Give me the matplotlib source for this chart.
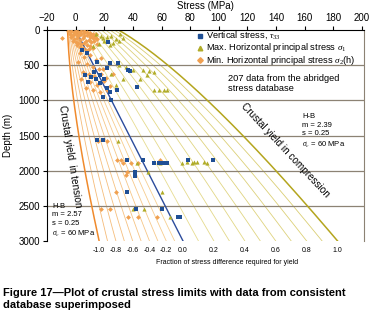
import matplotlib
matplotlib.use("Agg")
import matplotlib.pyplot as plt
import matplotlib.transforms as mtransforms
import numpy as np

plt.rcParams['font.family'] = ['Liberation Sans', 'DejaVu Sans']
plt.rcParams['mathtext.fontset'] = 'custom'
plt.rcParams['mathtext.rm'] = 'Liberation Serif'
plt.rcParams['mathtext.it'] = 'Liberation Serif:italic'

# ---------------- data ----------------
unit_weight = 0.025          # MPa per m
hb_comp = dict(m=2.39, s=0.25, sc=60.0)
hb_tens = dict(m=2.57, s=0.25, sc=60.0)
fractions = [round(v, 1) for v in np.arange(-1.0, 1.01, 0.1)]
fraction_labels = [-1.0, -0.8, -0.6, -0.4, -0.2, 0.0, 0.2, 0.4, 0.6, 0.8, 1.0]
stress_ticks = list(range(-20, 201, 20))
depth_ticks = list(range(0, 3001, 500))

# vertical stress (stress MPa, depth m)
sv_stress = [22.6, 4.4, 8, 15, 24, 29.6, 22, 36.6, 38, 6.5, 11, 17, 14, 8.6, 17, 22, 24, 19, 25, 43, 29, 13, 20,
             15, 19, 36, 47, 55, 58, 61, 64, 78.5, 96, 41.5, 41.5, 36, 42, 60, 71.5, 73]
sv_depth = [170, 285, 320, 450, 470, 470, 540, 570, 580, 640, 670, 640, 700, 740, 750, 825, 880, 950, 995, 810, 850, 600, 690,
            1565, 1565, 1850, 1850, 1890, 1890, 1890, 1890, 1850, 1850, 2020, 2075, 2300, 2545, 2545, 2660, 2660]

# max horizontal principal stress
smax_stress = [14, 18, 22, 25, 28, 30, 20, 16, 24, 12, 31, 19, 26, 33,
               40, 47, 51, 55, 50, 55, 58, 62, 64, 30, 35, 25, 33, 28, 45,
               29.6, 43, 50.5, 60, 40, 48, 66, 74, 81, 78, 83, 85, 90, 92, 59]
smax_depth = [60, 80, 100, 90, 130, 150, 150, 200, 210, 230, 60, 120, 180, 120,
              570, 570, 580, 600, 640, 850, 850, 850, 850, 500, 530, 620, 700, 780, 700,
              1580, 1890, 2020, 2300, 2545, 2545, 2660, 1890, 1890, 1880, 1880, 1880, 1880, 1890, 1890]

# min horizontal principal stress
smin_stress = [-9.5, -5, -3, -1, 0, 2, 4, 6, 8, 10, 12, 14, -4, -2, 0, 2, 4, 6, 8, 10, 12, 14,
               -3, -1, 1, 3, 5, 7, 9, 11, 13, 0, 2, 4, 6, 8, 10, 12, 3, 5, 7, 9, 1, 15, -2, 6, 3, 9, 11, 13, 15,
               3, 6, 10, 14, 18, 2, 8, 12, 16, 5, 9, 13, 18, 21, 4, 10, 15, 20, 24, 7, 12, 17, 22, 19, 26,
               15.6, 22, 29, 32, 39, 43.5, 59, 36, 28, 18, 24, 36.5, 43.5, 57, 33, 35]
smin_depth = [115, 10, 20, 30, 15, 25, 10, 20, 30, 40, 50, 60, 50, 70, 60, 80, 60, 90, 70, 100, 120, 110,
              100, 130, 110, 140, 120, 150, 140, 170, 160, 170, 190, 200, 180, 210, 230, 250, 240, 260, 280, 270, 220, 200, 160, 40, 50, 55, 80, 90, 130,
              330, 380, 350, 420, 400, 460, 480, 520, 560, 600, 620, 650, 620, 680, 700, 740, 780, 720, 790, 820, 850, 880, 860, 560, 620,
              1580, 1580, 1850, 1850, 1890, 1890, 1850, 2020, 2300, 2545, 2545, 2660, 2660, 2660, 1890, 2060]


# ---------------- helpers ----------------
def sigma_v(z):
    return unit_weight * z


def comp_limit(s3, p):
    return s3 + p['sc'] * np.sqrt(np.maximum(p['m'] * s3 / p['sc'] + p['s'], 0))


def tens_limit(s1, p):
    # solve s1 = s3 + sc*sqrt(m*s3/sc + s) for s3 (bisection)
    lo = np.full_like(s1, -60.0)
    hi = s1.copy()
    for _ in range(80):
        mid = 0.5 * (lo + hi)
        val = comp_limit(mid, p) - s1
        lo = np.where(val < 0, mid, lo)
        hi = np.where(val >= 0, mid, hi)
    return 0.5 * (lo + hi)


def fan_line(f, z):
    sv = sigma_v(z)
    if f >= 0:
        return sv + f * (comp_limit(sv, hb_comp) - sv)
    return sv + f * (sv - tens_limit(sv, hb_tens))


# ---------------- figure ----------------
W, H = 375, 320
fig = plt.figure(figsize=(W / 100, H / 100), dpi=100)
ax = fig.add_axes([47 / W, 1 - 241 / H, (364 - 47) / W, 211 / H])
ax.set_xlim(-20, 201.4)
ax.set_ylim(3000, 0)

z = np.linspace(0, 3000, 400)

orange_dark = '#f08a2c'
orange_light = np.array([0.96, 0.72, 0.46])
orange_pale = np.array([0.97, 0.82, 0.58])
olive_dark = '#b4a51e'
yel_pale = np.array([0.91, 0.87, 0.58])
yel_mid = np.array([0.85, 0.80, 0.44])

for f in fractions:
    x = fan_line(f, z)
    if f == -1.0:
        ax.plot(x, z, color=orange_dark, lw=1.1, zorder=2)
    elif f < 0:
        t = (f + 1.0) / 1.0
        c = orange_light * (1 - t) + orange_pale * t
        ax.plot(x, z, color=c, lw=0.6, zorder=1)
    elif f == 0:
        ax.plot(x, z, color='#2c4c9c', lw=1.0, zorder=3)
    elif f < 1.0:
        c = yel_pale * (1 - f) + yel_mid * f
        ax.plot(x, z, color=c, lw=0.6, zorder=1)
    else:
        ax.plot(x, z, color=olive_dark, lw=1.1, zorder=2)

for d in depth_ticks[1:-1]:
    ax.axhline(d, color='#8c8274', lw=0.9, zorder=1.5)

ax.scatter(smin_stress, smin_depth, marker='D', s=6, color='#f0a050', linewidths=0, zorder=4)
ax.scatter(smax_stress, smax_depth, marker='^', s=9, color='#b0ac28', linewidths=0, zorder=5)
ax.scatter(sv_stress, sv_depth, marker='s', s=9, color='#1f4f95', linewidths=0, zorder=6)

# axes styling
ax.xaxis.tick_top()
ax.xaxis.set_label_position('top')
ax.set_xticks(stress_ticks)
ax.set_yticks(depth_ticks)
ax.tick_params(axis='both', labelsize=7, length=3, width=0.8, direction='out', pad=2)
ax.set_xlabel('Stress (MPa)', fontsize=7, labelpad=3)
ax.set_ylabel('Depth (m)', fontsize=7, labelpad=4)
ax.spines['bottom'].set_visible(False)
ax.spines['right'].set_color('#8c8274')
ax.spines['right'].set_linewidth(0.8)

# bottom fraction labels
btrans = mtransforms.blended_transform_factory(ax.transData, ax.transAxes)
for f in fraction_labels:
    xf = fan_line(f, np.array([3000.0]))[0]
    ax.text(xf, -10 / 211, f'{f:.1f}', transform=btrans, ha='center', va='center', fontsize=5)
fig.text(227 / W, 1 - 263 / H, 'Fraction of stress difference required for yield',
         ha='center', va='center', fontsize=5)

# legend (manual)
leg_items = [('s', '#1f4f95', 'Vertical stress, $\\tau_{33}$'),
             ('^', '#b0ac28', 'Max. Horizontal principal stress $\\sigma_1$'),
             ('D', '#f0a050', 'Min. Horizontal principal stress $\\sigma_2$(h)')]
for i, (mk, col, lab) in enumerate(leg_items):
    yy = 1 - (35.5 + 12.3 * i) / H
    fig.lines.append(plt.Line2D([200 / W], [yy], marker=mk, color=col, markersize=3.3 if mk != 'D' else 2.8,
                                 linestyle='none', transform=fig.transFigure))
    fig.text(206 / W, yy, lab, fontsize=6.7, va='center', ha='left')

fig.text(228 / W, 1 - 83.5 / H, '207 data from the abridged\nstress database', fontsize=6.7,
         va='center', ha='left', linespacing=1.15)

fig.text(302 / W, 1 - 131.5 / H, 'H-B\nm = 2.39\ns = 0.25\n$\\sigma_c$ = 60 MPa', fontsize=5.5,
         va='center', ha='left', linespacing=1.3)
fig.text(52 / W, 1 - 221 / H, 'H-B\nm = 2.57\ns = 0.25\n$\\sigma_c$ = 60 MPa', fontsize=5.5,
         va='center', ha='left', linespacing=1.3)

fig.text(70 / W, 1 - 156 / H, 'Crustal yield  in tension', fontsize=7.2, rotation=-81,
         ha='center', va='center', rotation_mode='anchor')
fig.text(285 / W, 1 - 150 / H, 'Crustal yield in compression', fontsize=7.2, rotation=-47,
         ha='center', va='center', rotation_mode='anchor')

# caption
fig.text(3 / W, 1 - 299 / H,
         'Figure 17\u2014Plot of crustal stress limits with data from consistent\ndatabase superimposed',
         fontsize=8.0, fontweight='bold', va='center', ha='left', linespacing=1.25)

fig.savefig('out.png', dpi=100)
